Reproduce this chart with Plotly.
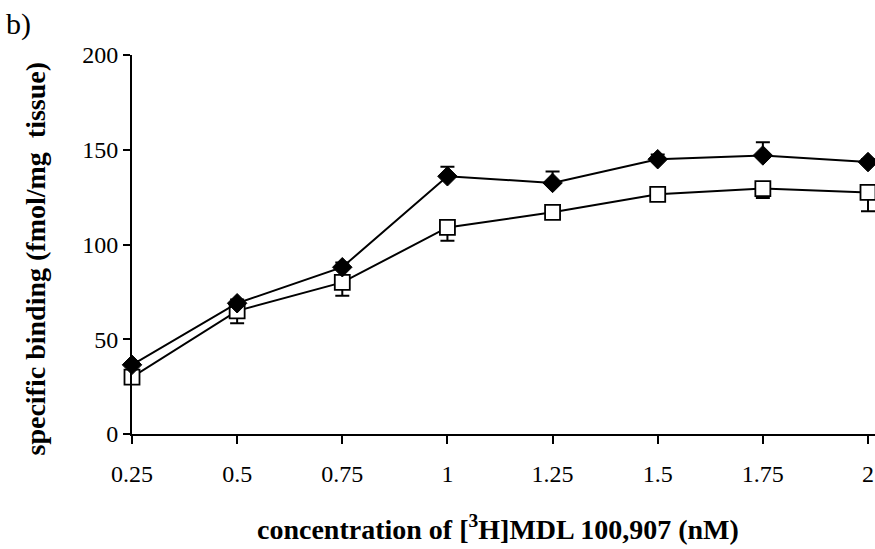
import plotly.graph_objects as go

conc = [0.25, 0.5, 0.75, 1.0, 1.25, 1.5, 1.75, 2.0]
tick_labels = ["0.25", "0.5", "0.75", "1", "1.25", "1.5", "1.75", "2"]

filled = [36.5, 69, 88, 136, 132.5, 145, 147, 143.5]
filled_err_up = [2, 2, 2.5, 5, 6, 2.5, 7, 1.5]

open_sq = [30, 65, 80, 109, 117, 126.5, 129.5, 127.5]
open_err_down = [1, 6.5, 7, 7, 1, 2, 5, 10]

FONT = "Liberation Serif"

fig = go.Figure()

fig.add_trace(go.Scatter(
    x=conc, y=open_sq, mode="lines+markers",
    line=dict(color="black", width=2),
    marker=dict(symbol="square", size=15, color="white",
                line=dict(color="black", width=1.8)),
    error_y=dict(type="data", symmetric=False, array=[0]*len(conc),
                 arrayminus=open_err_down, color="black", thickness=2, width=7),
    cliponaxis=False, showlegend=False,
))

fig.add_trace(go.Scatter(
    x=conc, y=filled, mode="lines+markers",
    line=dict(color="black", width=2),
    marker=dict(symbol="diamond", size=15, color="black",
                line=dict(color="black", width=1)),
    error_y=dict(type="data", symmetric=False, array=filled_err_up,
                 arrayminus=[0]*len(conc), color="black", thickness=2, width=7),
    cliponaxis=False, showlegend=False,
))

x_max = 0.25 + 1.75 * (875 - 132) / (868 - 132)

fig.update_layout(
    width=875, height=549,
    margin=dict(l=132, r=0, t=55, b=115),
    paper_bgcolor="white", plot_bgcolor="white",
    font=dict(family=FONT, color="black", size=24),
    xaxis=dict(
        range=[0.25, x_max], tickvals=conc, ticktext=tick_labels,
        showline=True, linecolor="black", linewidth=2,
        ticks="outside", ticklen=8, tickwidth=2, tickcolor="black",
        showgrid=False, zeroline=False, ticklabelstandoff=9,
        tickfont=dict(family=FONT, size=24),
    ),
    yaxis=dict(
        range=[0, 200], tickvals=[0, 50, 100, 150, 200],
        showline=True, linecolor="black", linewidth=2,
        ticks="outside", ticklen=7, tickwidth=2, tickcolor="black",
        showgrid=False, zeroline=False, ticklabelstandoff=0,
        tickfont=dict(family=FONT, size=24),
    ),
    annotations=[
        dict(text="b)", xref="paper", yref="paper", x=0, y=1,
             xanchor="left", yanchor="middle", xshift=-128, yshift=31,
             showarrow=False, font=dict(family=FONT, size=30)),
        dict(text="specific binding (fmol/mg  tissue)", xref="paper", yref="paper",
             x=0, y=0.5, xanchor="center", yanchor="middle", xshift=-97,
             yshift=-14, textangle=-90, showarrow=False,
             font=dict(family=FONT, size=28, weight="bold")),
        dict(text="concentration of [<sup>3</sup>H]MDL 100,907 (nM)",
             xref="paper", yref="paper", x=(498 - 132) / 743, y=0,
             xanchor="center", yanchor="middle", yshift=-93,
             showarrow=False, font=dict(family=FONT, size=28, weight="bold")),
    ],
)

fig.write_html("out.html")
